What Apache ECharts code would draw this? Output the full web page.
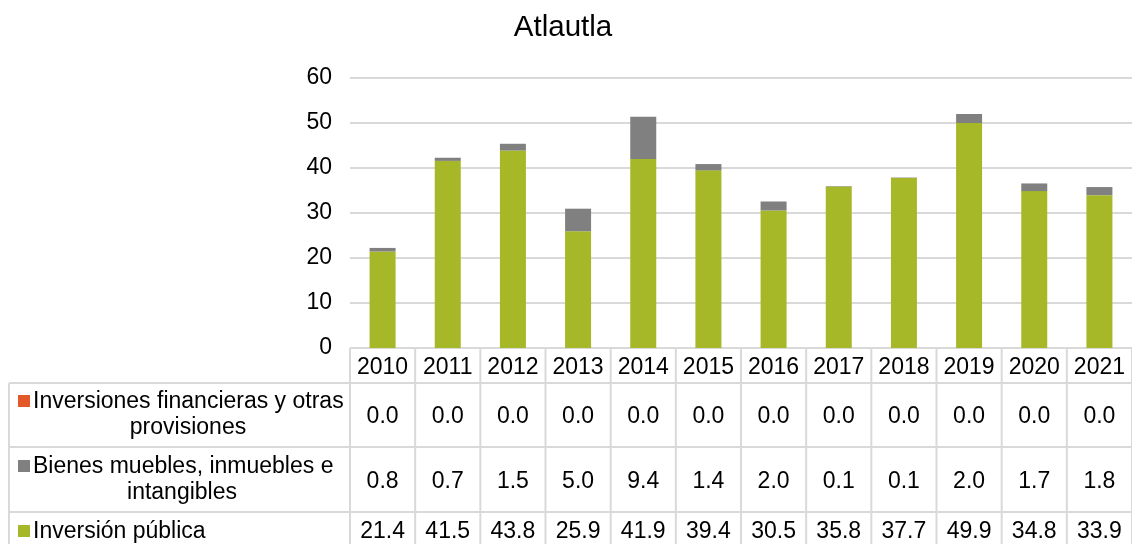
<!DOCTYPE html>
<html>
<head>
<meta charset="utf-8">
<script src="https://cdn.jsdelivr.net/npm/echarts@6/dist/echarts.min.js"></script>
<style>html,body{margin:0;padding:0;background:#fff}#c{width:1132px;height:544px}</style>
</head>
<body>
<div id="c"></div>
<script>
const title = 'Atlautla';
const years = ['2010','2011','2012','2013','2014','2015','2016','2017','2018','2019','2020','2021'];
const yTicks = [0, 10, 20, 30, 40, 50, 60];
const inversionPublica = [21.4, 41.5, 43.8, 25.9, 41.9, 39.4, 30.5, 35.8, 37.7, 49.9, 34.8, 33.9];
const bienesMuebles = [0.8, 0.7, 1.5, 5.0, 9.4, 1.4, 2.0, 0.1, 0.1, 2.0, 1.7, 1.8];
const inversionesFinancieras = [0.0, 0.0, 0.0, 0.0, 0.0, 0.0, 0.0, 0.0, 0.0, 0.0, 0.0, 0.0];
const seriesNames = ['Inversiones financieras y otras provisiones', 'Bienes muebles, inmuebles e intangibles', 'Inversión pública'];
const rowLabelLines = [['Inversiones financieras y otras', 'provisiones'], ['Bienes muebles, inmuebles e', 'intangibles'], ['Inversión pública']];
const colors = ['#E2582B', '#808080', '#A6B827'];

const FONT = 'Liberation Sans, Arial, sans-serif';
const FS = 23;
const chart = echarts.init(document.getElementById('c'), null, {renderer: 'canvas'});
const GRID_LEFT = 350, GRID_TOP = 77.5, GRID_W = 785, GRID_BOTTOM_Y = 348;

chart.setOption({
  animation: false,
  backgroundColor: '#fff',
  grid: {left: GRID_LEFT, top: GRID_TOP, width: GRID_W, height: GRID_BOTTOM_Y - GRID_TOP, containLabel: false},
  xAxis: {type: 'category', data: years,
    axisLine: {show: false}, axisTick: {show: false},
    axisLabel: {fontFamily: FONT, fontSize: FS, color: '#000', margin: 8, interval: 0, hideOverlap: false}},
  yAxis: {type: 'value', min: 0, max: 60, interval: 10,
    axisLine: {show: false}, axisTick: {show: false},
    axisLabel: {fontFamily: FONT, fontSize: FS, color: '#000', margin: 18,
      formatter: v => yTicks.includes(v) ? String(v) : ''},
    splitLine: {lineStyle: {color: '#d9d9d9', width: 2}}},
  series: [
    {name: seriesNames[2], type: 'bar', stack: 't', data: inversionPublica, barWidth: 26, itemStyle: {color: colors[2]}},
    {name: seriesNames[1], type: 'bar', stack: 't', data: bienesMuebles, barWidth: 26, itemStyle: {color: colors[1]}},
    {name: seriesNames[0], type: 'bar', stack: 't', data: inversionesFinancieras, barWidth: 26, itemStyle: {color: colors[0]}}
  ]
});

// Build data table below the chart from arrays, using axis pixel positions
const centers = years.map((y, i) => chart.convertToPixel({xAxisIndex: 0}, i));
const band = centers.length > 1 ? centers[1] - centers[0] : 65;
const tableLeft = 9, tableRight = 1134;
const rowYs = [GRID_BOTTOM_Y, 383, 447, 512, 580];
const rowValues = [inversionesFinancieras, bienesMuebles, inversionPublica];
const valueY = [417, 482, 532];
const lineYs = [[402, 428], [467, 493], [532]];
const line2X = [188, 182];
const keyY = [395, 460, 525];
const lineStyle = {stroke: '#d9d9d9', lineWidth: 2};
const g = [];
g.push({type: 'text', x: 563, y: 28, style: {text: title, font: '29.5px ' + FONT, fill: '#000', textAlign: 'center', textVerticalAlign: 'middle'}});
// horizontal lines
g.push({type: 'line', shape: {x1: centers[0] - band / 2, y1: rowYs[0], x2: tableRight, y2: rowYs[0]}, style: lineStyle});
for (let r = 1; r <= 3; r++) {
  g.push({type: 'line', shape: {x1: tableLeft, y1: rowYs[r], x2: tableRight, y2: rowYs[r]}, style: lineStyle});
}
// vertical lines
g.push({type: 'line', shape: {x1: tableLeft, y1: rowYs[1], x2: tableLeft, y2: 544}, style: lineStyle});
for (let i = 0; i <= years.length; i++) {
  const x = centers[0] - band / 2 + i * band;
  g.push({type: 'line', shape: {x1: x, y1: rowYs[0], x2: x, y2: 544}, style: lineStyle});
}
// row labels with legend keys
for (let r = 0; r < 3; r++) {
  g.push({type: 'rect', shape: {x: 18, y: keyY[r], width: 12, height: 12}, style: {fill: colors[r]}});
  const lines = rowLabelLines[r];
  g.push({type: 'text', x: 33, y: lineYs[r][0], style: {text: lines[0], font: FS + 'px ' + FONT, fill: '#000', textAlign: 'left', textVerticalAlign: 'middle'}});
  if (lines[1]) {
    g.push({type: 'text', x: line2X[r], y: lineYs[r][1], style: {text: lines[1], font: FS + 'px ' + FONT, fill: '#000', textAlign: 'center', textVerticalAlign: 'middle'}});
  }
  rowValues[r].forEach((v, i) => {
    g.push({type: 'text', x: centers[i], y: valueY[r], style: {text: v.toFixed(1), font: FS + 'px ' + FONT, fill: '#000', textAlign: 'center', textVerticalAlign: 'middle'}});
  });
}
chart.setOption({graphic: {elements: g}});
</script>
</body>
</html>
